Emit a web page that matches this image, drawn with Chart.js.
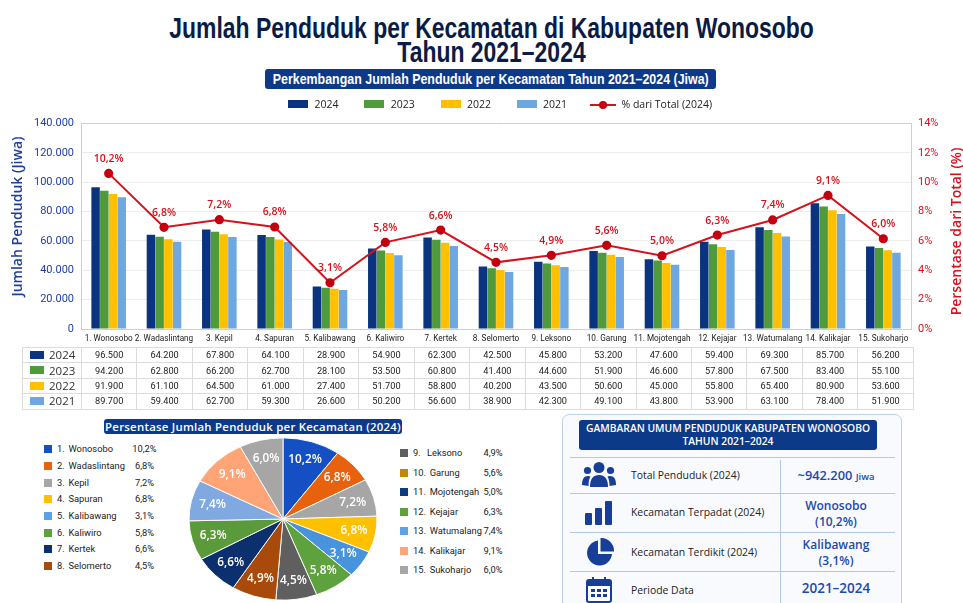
<!DOCTYPE html>
<html lang="id"><head><meta charset="utf-8">
<script src="https://cdn.jsdelivr.net/npm/chart.js@4"></script>
<style>
html,body{margin:0;padding:0;background:#fff}
body{position:relative;width:963px;height:603px;overflow:hidden;font-family:"Open Sans",sans-serif;color:#222}
.abs{position:absolute;white-space:nowrap}
#title{left:10px;width:963px;top:16px;text-align:center;font:700 29px/24px "Liberation Sans",sans-serif;color:#0b1b45;transform:scaleX(.791)}
.chip{position:absolute;background:#0d3a88;color:#fff;border-radius:3px;text-align:center;white-space:nowrap}
#chip1{left:265px;top:69px;width:451px;height:20px;font:700 14px/20px "Liberation Sans",sans-serif;overflow:hidden}
#chip1 span{display:inline-block;margin:0 -100px;transform-origin:center}
#chip2{left:104px;top:419px;width:298px;height:15px;font:600 11.4px/15px "Open Sans",sans-serif;letter-spacing:.25px}
#chip3{left:579px;top:420px;width:298px;font:600 10.3px/12.5px "Open Sans",sans-serif;padding-top:2px;height:28px}
.lg{position:absolute;top:100px;height:8px}
.lgt{position:absolute;top:97px;font:500 10.5px/15px "Open Sans",sans-serif;color:#222;white-space:nowrap}
canvas{position:absolute;display:block}
#barCanvas{left:0;top:0}
#pieCanvas{left:178px;top:414px}
table{position:absolute;left:22px;top:347px;border-collapse:collapse;table-layout:fixed;width:892px}
td{border:1px solid #dcdcdc;height:14.4px;padding:0;text-align:center;font:400 9.2px/14px Roboto,sans-serif;color:#222;overflow:hidden}
td.h{text-align:left;font:500 11.5px/14px "Open Sans",sans-serif;color:#333;position:relative;padding-left:26px;box-sizing:border-box}
td.h i{position:absolute;left:7px;top:3px;width:14px;height:8px}
.s{position:absolute;width:8px;height:8px}
.pl{position:absolute;font:400 9.3px/14px Roboto,sans-serif;color:#222;white-space:nowrap}
#panel{position:absolute;left:562px;top:414px;width:338px;height:200px;border:1px solid #bcd0ec;border-radius:7px;background:#f8fafe}
.hr{position:absolute;left:570px;width:325px;height:1px;background:#b4c8e6}
#vr{position:absolute;left:780px;top:460px;width:1px;height:143px;background:#b4c8e6}
.rl{position:absolute;left:631px;font:500 10.4px/14px "Open Sans",sans-serif;color:#222;white-space:nowrap}
.rv{position:absolute;left:781px;width:110px;text-align:center;color:#1d49ad;font:600 12px/16px "Open Sans",sans-serif;white-space:nowrap}
.rv small{font-size:9.5px}
svg{position:absolute}
</style></head><body>
<div id="title" class="abs">Jumlah Penduduk per Kecamatan di Kabupaten Wonosobo<br>Tahun 2021–2024</div>
<div id="chip1" class="chip"><span id="chip1t">Perkembangan Jumlah Penduduk per Kecamatan Tahun 2021–2024 (Jiwa)</span></div>
<canvas id="barCanvas" width="963" height="350"></canvas>
<div id="legend"></div>
<table id="tbl"></table>
<div id="chip2" class="chip">Persentase Jumlah Penduduk per Kecamatan (2024)</div>
<div id="pieLegend"></div>
<canvas id="pieCanvas" width="210" height="210"></canvas>
<div id="panel"></div>
<div id="chip3" class="chip">GAMBARAN UMUM PENDUDUK KABUPATEN WONOSOBO<br>TAHUN 2021–2024</div>
<div class="hr" style="top:457px"></div><div class="hr" style="top:493px"></div><div class="hr" style="top:532px"></div><div class="hr" style="top:571px"></div>
<div id="vr"></div>
<svg style="left:582px;top:462px" width="34" height="26" viewBox="0 0 34 26" fill="#173f97"><circle cx="17" cy="5.5" r="5.5"/><circle cx="5.5" cy="8.5" r="3.6"/><circle cx="28.5" cy="8.5" r="3.6"/><path d="M8 25c0-8 3-12 9-12s9 4 9 12z"/><path d="M0 23c0-6 2-9 6-9 1 0 2 .3 2.500 .7C7 17 6.500 20 6.500 24z"/><path d="M34 23c0-6-2-9-6-9-1 0-2 .3-2.500 .7C27 17 27.500 20 27.500 24z"/></svg>
<svg style="left:585px;top:501px" width="27" height="24" viewBox="0 0 27 24" fill="#173f97"><rect x="0" y="12" width="7" height="12" rx="1"/><rect x="10" y="7" width="7" height="17" rx="1"/><rect x="20" y="0" width="7" height="24" rx="1"/></svg>
<svg style="left:586px;top:538px" width="28" height="28" viewBox="0 0 28 28" fill="#173f97"><path d="M12 2.500A12.500 12.500 0 1 0 26 16H12z"/><path d="M14.500 0A13 13 0 0 1 28 13.500H14.500z"/></svg>
<svg style="left:586px;top:577px" width="26" height="26" viewBox="0 0 26 26"><rect x="1" y="3" width="24" height="22" rx="2" fill="#fff" stroke="#173f97" stroke-width="2"/><rect x="1" y="3" width="24" height="6" fill="#173f97"/><rect x="6" y="0" width="2" height="5" fill="#173f97"/><rect x="18" y="0" width="2" height="5" fill="#173f97"/><g fill="#173f97"><rect x="5" y="12" width="4" height="3"/><rect x="11" y="12" width="4" height="3"/><rect x="17" y="12" width="4" height="3"/><rect x="5" y="17" width="4" height="3"/><rect x="11" y="17" width="4" height="3"/><rect x="17" y="17" width="4" height="3"/></g></svg>
<div class="rl" style="top:468px">Total Penduduk (2024)</div>
<div class="rl" style="top:505px">Kecamatan Terpadat (2024)</div>
<div class="rl" style="top:545px">Kecamatan Terdikit (2024)</div>
<div class="rl" style="top:583px">Periode Data</div>
<div class="rv" style="top:467px;font-size:12.8px">~942.200 <small>Jiwa</small></div>
<div class="rv" style="top:498px">Wonosobo</div><div class="rv" style="top:514px">(10,2%)</div>
<div class="rv" style="top:537px">Kalibawang</div><div class="rv" style="top:553px">(3,1%)</div>
<div class="rv" style="top:580px;font-size:13.5px">2021–2024</div>
<script>
const categories=["1. Wonosobo","2. Wadaslintang","3. Kepil","4. Sapuran","5. Kalibawang","6. Kaliwiro","7. Kertek","8. Selomerto","9. Leksono","10. Garung","11. Mojotengah","12. Kejajar","13. Watumalang","14. Kalikajar","15. Sukoharjo"];
const years=["2024","2023","2022","2021"];
const v2024=[96500,64200,67800,64100,28900,54900,62300,42500,45800,53200,47600,59400,69300,85700,56200];
const v2023=[94200,62800,66200,62700,28100,53500,60800,41400,44600,51900,46600,57800,67500,83400,55100];
const v2022=[91900,61100,64500,61000,27400,51700,58800,40200,43500,50600,45000,55800,65400,80900,53600];
const v2021=[89700,59400,62700,59300,26600,50200,56600,38900,42300,49100,43800,53900,63100,78400,51900];
const yearColors=["#0a347f","#4f9a3a","#ffc000","#6fa8e0"];
// percentage share: the height each point sits at in the picture, and the text printed beside it
const pctPlotted=[10.6,6.93,7.45,6.95,3.15,5.9,6.74,4.54,5.02,5.7,4.99,6.4,7.43,9.1,6.15];
const pctLabels=["10,2%","6,8%","7,2%","6,8%","3,1%","5,8%","6,6%","4,5%","4,9%","5,6%","5,0%","6,3%","7,4%","9,1%","6,0%"];
const yTicks=["0","20.000","40.000","60.000","80.000","100.000","120.000","140.000"];
// pie: the picture shows 13 slices; sweep of each slice (degrees)
const pieSweep=[35.6,25.6,26.8,26,19.4,25.6,25.4,27.6,28.3,28.4,29.3,35,27];
const pieLabels=["10,2%","6,8%","7,2%","6,8%","3,1%","5,8%","4,5%","4,9%","6,6%","6,3%","7,4%","9,1%","6,0%"];
const pieColors=["#1450c4","#e8610c","#a6a6a6","#ffc000","#4793dc","#5da23c","#5f5f5f","#a84a0a","#0c2f6e","#5a9a3a","#7fa9e0","#ffa477","#a6a6a6"];
const legendNumbersLeft=["1.","2.","3.","4.","5.","6.","7.","8."];
const legendNamesLeft=["Wonosobo","Wadaslintang","Kepil","Sapuran","Kalibawang","Kaliwiro","Kertek","Selomerto"];
const legendPctLeft=["10,2%","6,8%","7,2%","6,8%","3,1%","5,8%","6,6%","4,5%"];
const legendColorsLeft=["#1450c4","#e8610c","#a6a6a6","#ffc000","#5ba3e6","#5da23c","#0c2f6e","#a84a0a"];
const legendNumbersRight=["9.","10.","11.","12.","13.","14.","15."];
const legendNamesRight=["Leksono","Garung","Mojotengah","Kejajar","Watumalang","Kalikajar","Sukoharjo"];
const legendPctRight=["4,9%","5,6%","5,0%","6,3%","7,4%","9,1%","6,0%"];
const legendColorsRight=["#5f5f5f","#c08a00","#0f3a80","#5da23c","#5ba3e6","#ffa477","#a6a6a6"];

const BLUE="#1f3f9a",RED="#d5121b",UI='"Open Sans",sans-serif';
const fmt=n=>String(n).replace(/\B(?=(\d{3})+$)/g,".");

// fit the subtitle to its measured width in the picture
const t1=document.getElementById("chip1t");
t1.style.transform="scaleX("+(436/t1.getBoundingClientRect().width)+")";

const pointLabels={id:"pointLabels",afterDatasetsDraw(c){
  const m=c.getDatasetMeta(4),x=c.ctx;x.save();
  x.font="600 10.5px "+UI;x.fillStyle=RED;x.textAlign="center";x.textBaseline="middle";
  m.data.forEach((p,i)=>x.fillText(pctLabels[i],p.x,p.y-14.5));x.restore();}};
const axisTitles={id:"axisTitles",afterDraw(c){
  const x=c.ctx;x.save();x.font="600 14px "+UI;x.textAlign="center";x.textBaseline="middle";
  [["Jumlah Penduduk (Jiwa)",BLUE,18,216.5],["Persentase dari Total (%)",RED,957,231.5]].forEach(([t,col,px,py])=>{
    x.save();x.translate(px,py);x.rotate(-Math.PI/2);x.fillStyle=col;x.fillText(t,0,0);x.restore();});
  x.restore();}};

new Chart(document.getElementById("barCanvas"),{
  type:"bar",plugins:[pointLabels,axisTitles],
  data:{labels:categories,datasets:[
    ...[v2024,v2023,v2022,v2021].map((d,i)=>({label:years[i],data:d,backgroundColor:yearColors[i],yAxisID:"y",order:2,categoryPercentage:.63,barPercentage:.97})),
    {type:"line",label:"% dari Total (2024)",data:pctPlotted,yAxisID:"y1",order:1,borderColor:RED,borderWidth:2,pointRadius:3.6,pointBackgroundColor:"#c40010",pointBorderColor:"#c40010",tension:0}
  ]},
  options:{responsive:false,animation:false,
    layout:{padding:{top:123.5,left:0,right:0,bottom:0}},
    plugins:{legend:{display:false},tooltip:{enabled:false}},
    scales:{
      x:{grid:{display:false,tickLength:0},border:{color:"#cfcfcf"},afterFit:s=>{s.height=21},
        ticks:{color:"#222",font:{size:8.2,weight:"400",family:"Roboto"},padding:5,maxRotation:0,minRotation:0,autoSkip:false}},
      y:{position:"left",min:0,max:140000,afterFit:s=>{s.width=81},
        border:{color:"#cfcfcf"},
        grid:{color:c=>c.tick.value===140000?"#cfcfcf":"#eeeeee",drawTicks:false},
        ticks:{stepSize:20000,padding:7,color:BLUE,font:{size:11,weight:"400",family:"Roboto"},callback:(v)=>yTicks[v/20000]}},
      y1:{position:"right",min:0,max:14,afterFit:s=>{s.width=52},
        border:{color:"#cfcfcf"},grid:{display:false,drawTicks:false},
        ticks:{stepSize:2,padding:7,color:RED,font:{size:11,weight:"400",family:"Roboto"},callback:v=>v+"%"}}
    }}
});

// HTML legend of the combo chart
const legendEl=document.getElementById("legend");
const lgX=[288,364,440.5,517],lgT=[314.5,390.7,467,543];
let lh="";
years.forEach((y,i)=>{lh+=`<div class="lg" style="left:${lgX[i]}px;width:20px;background:${yearColors[i]}"></div><div class="lgt" style="left:${lgT[i]}px">${y}</div>`});
lh+=`<div class="lg" style="left:590px;top:103.500px;width:26px;height:2px;background:${RED}"></div><div class="lg" style="left:599px;top:100.500px;width:8px;height:8px;border-radius:50%;background:#c40010"></div><div class="lgt" style="left:621.500px">% dari Total (2024)</div>`;
legendEl.innerHTML=lh;

// data table
const rows=[v2024,v2023,v2022,v2021];
document.getElementById("tbl").innerHTML=`<colgroup><col style="width:59px">${categories.map(()=>'<col>').join("")}</colgroup>`+rows.map((r,i)=>`<tr><td class="h"><i style="background:${yearColors[i]}"></i>${years[i]}</td>${r.map(v=>`<td>${fmt(v)}</td>`).join("")}</tr>`).join("");

// pie legends
const leftY=[449,465.7,482.7,499.3,516,532.7,549.3,566.3],rightY=[453.3,472.7,492.3,511.7,531.3,550.7,570];
let ph="";
legendNamesLeft.forEach((n,i)=>{const y=leftY[i];ph+=`<div class="s" style="left:44px;top:${y-4}px;background:${legendColorsLeft[i]}"></div><div class="pl" style="left:57px;top:${y-7}px">${legendNumbersLeft[i]}</div><div class="pl" style="left:68.500px;top:${y-7}px">${n}</div><div class="pl" style="left:124px;width:41px;text-align:center;top:${y-7}px">${legendPctLeft[i]}</div>`});
legendNamesRight.forEach((n,i)=>{const y=rightY[i],nx=i===0?427:429.7;ph+=`<div class="s" style="left:400px;top:${y-4}px;background:${legendColorsRight[i]}"></div><div class="pl" style="left:413px;top:${y-7}px">${legendNumbersRight[i]}</div><div class="pl" style="left:${nx}px;top:${y-7}px">${n}</div><div class="pl" style="left:473px;width:40px;text-align:center;top:${y-7}px">${legendPctRight[i]}</div>`});
document.getElementById("pieLegend").innerHTML=ph;

// pie, flattened vertically as in the picture
const SQUASH=.863;
const pieShape={id:"pieShape",
  beforeDatasetsDraw(c){const x=c.ctx,m=c.getDatasetMeta(0).data[0];x.save();x.translate(m.x,m.y);x.scale(1,SQUASH);x.translate(-m.x,-m.y);},
  afterDatasetsDraw(c){const x=c.ctx;x.restore();x.save();
    x.font="600 11.8px "+UI;x.fillStyle="#fff";x.textAlign="center";x.textBaseline="middle";
    c.getDatasetMeta(0).data.forEach((a,i)=>{const t=(a.startAngle+a.endAngle)/2,r=a.outerRadius*.77;
      x.fillText(pieLabels[i],a.x+Math.cos(t)*r,a.y+Math.sin(t)*r*SQUASH);});x.restore();}};
new Chart(document.getElementById("pieCanvas"),{
  type:"pie",plugins:[pieShape],
  data:{labels:pieLabels,datasets:[{data:pieSweep,backgroundColor:pieColors,borderColor:"#fff",borderWidth:1}]},
  options:{responsive:false,animation:false,radius:94,layout:{padding:0},plugins:{legend:{display:false},tooltip:{enabled:false}}}
});
</script>
</body></html>
